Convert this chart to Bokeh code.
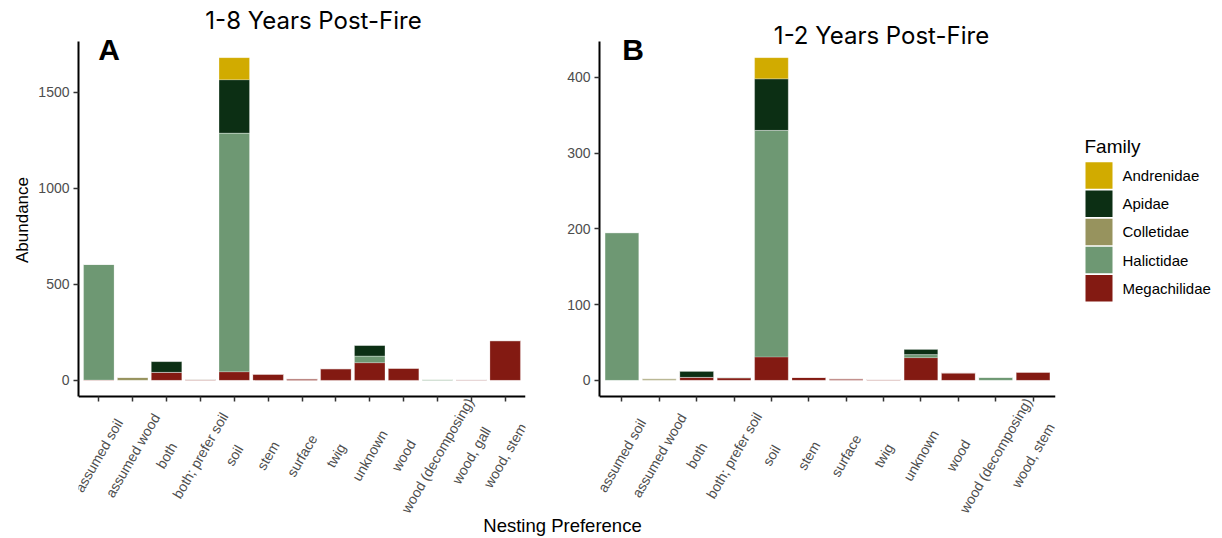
from bokeh.plotting import figure
from bokeh.models import (ColumnDataSource, FactorRange, Range1d, FixedTicker, Label, LabelSet,
                          CustomJSTickFormatter, Title)
from bokeh.layouts import row, column
from bokeh.core.properties import value
from bokeh.embed import file_html
from bokeh.resources import INLINE

# ---------------- data ----------------
families = ["Andrenidae", "Apidae", "Colletidae", "Halictidae", "Megachilidae"]
family_colors = ["#D1AB00", "#0C2F14", "#97935E", "#6E9873", "#831A12"]

cats_a = ["assumed soil", "assumed wood", "both", "both; prefer soil", "soil", "stem",
          "surface", "twig", "unknown", "wood", "wood (decomposing)", "wood, gall", "wood, stem"]
a_andrenidae   = [0,   0,  0,  0,  115, 0,  0, 0,  0,  0,  0, 0, 0]
a_apidae       = [0,   0,  56, 0,  278, 0,  0, 0,  55, 0,  0, 0, 0]
a_colletidae   = [0,   15, 0,  0,  0,   0,  0, 0,  0,  0,  0, 0, 0]
a_halictidae   = [602, 0,  0,  2,  1243, 0, 0, 0,  35, 0,  5, 0, 0]
a_megachilidae = [2,   0,  42, 4,  45,  33, 8, 61, 92, 64, 0, 3, 207]

cats_b = ["assumed soil", "assumed wood", "both", "both; prefer soil", "soil", "stem",
          "surface", "twig", "unknown", "wood", "wood (decomposing)", "wood, stem"]
b_andrenidae   = [0,   0, 0, 0, 28,  0, 0, 0, 0,  0,  0, 0]
b_apidae       = [0,   0, 8, 0, 68,  0, 0, 0, 7,  0,  0, 0]
b_colletidae   = [0,   2, 0, 0, 0,   0, 0, 0, 0,  0,  0, 0]
b_halictidae   = [195, 0, 0, 1, 299, 0, 0, 0, 4,  0,  4, 0]
b_megachilidae = [0,   0, 4, 3, 31,  4, 2, 1, 30, 10, 0, 11]

ticks_a = [0, 500, 1000, 1500]
ticks_b = [0, 100, 200, 300, 400]

title_a = "1-8 Years Post-Fire"
title_b = "1-2 Years Post-Fire"
x_title = "Nesting Preference"
y_title = "Abundance"
legend_title = "Family"

FONT = "Liberation Sans"
TITLE_FONT = "Inter"
TICK_COLOR = "#4D4D4D"

ROW_H = 516            # height of the panel row
BOT_H = 20             # strip holding the shared x title
AX_TOP, AX_BOTTOM = 41, 396   # page y of the plotting area of each panel


def make_panel(cats, series, ticks, page_left, width, ax_left, ax_right,
               title, title_pos, letter, letter_pos, ylabel=None):
    n = len(cats)
    totals = [sum(v[i] for v in series.values()) for i in range(n)]
    ymax = max(totals)
    pad = 0.05 * ymax
    y0, y1 = -pad, ymax + pad
    u = (y1 - y0) / (AX_BOTTOM - AX_TOP)          # data units per pixel
    ys, ye = y0 - (ROW_H - AX_BOTTOM) * u, y1 + AX_TOP * u
    x0, x1 = -0.1, n + 0.1
    p = figure(x_range=FactorRange(*cats, range_padding=0.2 / n),
               y_range=Range1d(ys, ye),
               width=width, height=ROW_H, output_backend="svg", toolbar_location=None,
               min_border_left=ax_left - page_left, min_border_right=page_left + width - ax_right,
               min_border_top=0, min_border_bottom=0)
    src = ColumnDataSource(dict(cat=cats, **series))
    p.vbar_stack(families[::-1], x="cat", width=0.9, source=src, fill_color=family_colors[::-1],
                 line_color="white", line_width=0.4, line_alpha=0.6)
    p.xgrid.visible = False
    p.ygrid.visible = False
    p.outline_line_color = None
    p.yaxis.ticker = FixedTicker(ticks=ticks)
    p.yaxis.bounds = (y0, y1)
    p.yaxis.minor_tick_line_color = None
    p.xaxis.fixed_location = y0
    p.xaxis.formatter = CustomJSTickFormatter(code="return ''")
    for ax in (p.xaxis[0], p.yaxis[0]):
        ax.axis_line_width = 2
        ax.axis_line_color = "black"
        ax.major_tick_line_width = 1.5
        ax.major_tick_line_color = "#333333"
        ax.major_tick_out = 5
        ax.major_tick_in = 0
    p.yaxis.major_label_text_font = FONT
    p.yaxis.major_label_text_font_size = "14px"
    p.yaxis.major_label_text_color = TICK_COLOR
    p.yaxis.major_label_standoff = 4
    if ylabel:
        # vertical title in the left border, centred on the plotting area
        mid = (AX_TOP + AX_BOTTOM) / 2
        p.add_layout(Title(text=ylabel, align="left", offset=ROW_H - mid - 44, text_font=FONT,
                           text_font_size="17px", text_font_style="normal",
                           text_color="black", standoff=8), "left")

    def dx(px):
        return x0 + (px - ax_left) / (ax_right - ax_left) * (x1 - x0)

    def dy(py):
        return ye - py / ROW_H * (ye - ys)

    lab_src = ColumnDataSource(dict(x=[i + 0.5 for i in range(n)], y=[dy(455)] * n, text=cats))
    p.add_layout(LabelSet(x="x", y="y", text="text", source=lab_src, angle=60, angle_units="deg",
                          text_align="center", text_baseline="middle",
                          text_font=value(FONT), text_font_size=value("14px"),
                          text_color=TICK_COLOR))
    p.add_layout(Label(x=dx(title_pos[0]), y=dy(title_pos[1]), text=title,
                       text_font=TITLE_FONT, text_font_size="24px", text_color="black",
                       text_align="center", text_baseline="middle"))
    p.add_layout(Label(x=dx(letter_pos[0]), y=dy(letter_pos[1]), text=letter,
                       text_font=FONT, text_font_size="30px", text_font_style="bold",
                       text_color="black", text_align="center", text_baseline="middle"))
    return p


series_a = dict(Andrenidae=a_andrenidae, Apidae=a_apidae, Colletidae=a_colletidae,
                Halictidae=a_halictidae, Megachilidae=a_megachilidae)
series_b = dict(Andrenidae=b_andrenidae, Apidae=b_apidae, Colletidae=b_colletidae,
                Halictidae=b_halictidae, Megachilidae=b_megachilidae)

pa = make_panel(cats_a, series_a, ticks_a, 0, 561, 78, 525, title_a, (313, 20), "A", (108.5, 49),
                ylabel=y_title)
pb = make_panel(cats_b, series_b, ticks_b, 561, 500, 599, 1055, title_b, (881, 35), "B", (632.5, 49))

# ---------------- legend ----------------
LEG_LEFT, LEG_W = 1061, 155
leg = figure(width=LEG_W, height=ROW_H, x_range=Range1d(LEG_LEFT, LEG_LEFT + LEG_W),
             y_range=Range1d(ROW_H, 0), output_backend="svg", toolbar_location=None,
             min_border=0, min_border_left=0, min_border_right=0, min_border_top=0,
             min_border_bottom=0, x_axis_location=None, y_axis_location=None)
leg.grid.visible = False
leg.outline_line_color = None
nf = len(families)
leg_src = ColumnDataSource(dict(x=[1098.5] * nf, tx=[1122] * nf,
                                y=[175 + i * 28.2 for i in range(nf)],
                                fam=families, col=family_colors))
leg.rect(x="x", y="y", width=27, height=26.5, fill_color="col", line_color=None, source=leg_src)
leg.text(x="tx", y="y", text="fam", source=leg_src, text_font=value(FONT),
         text_font_size=value("15px"), text_color="black", text_align="left", text_baseline="middle")
leg.add_layout(Label(x=1084, y=146, text=legend_title, text_font=FONT,
                     text_font_size="19px", text_color="black", text_align="left",
                     text_baseline="middle"))

# ---------------- shared x title ----------------
TOTAL_W = 561 + 500 + LEG_W
bot = figure(width=TOTAL_W, height=BOT_H, x_range=Range1d(0, TOTAL_W),
             y_range=Range1d(ROW_H + BOT_H, ROW_H), output_backend="svg", toolbar_location=None,
             min_border=0, min_border_left=0, min_border_right=0, min_border_top=0,
             min_border_bottom=0, x_axis_location=None, y_axis_location=None)
bot.grid.visible = False
bot.outline_line_color = None
bot.add_layout(Label(x=562, y=525, text=x_title, text_font=FONT,
                     text_font_size="18.5px", text_color="black", text_align="center",
                     text_baseline="middle"))

layout = column(row(pa, pb, leg), bot)
open("out.html", "w").write(file_html(layout, INLINE))
